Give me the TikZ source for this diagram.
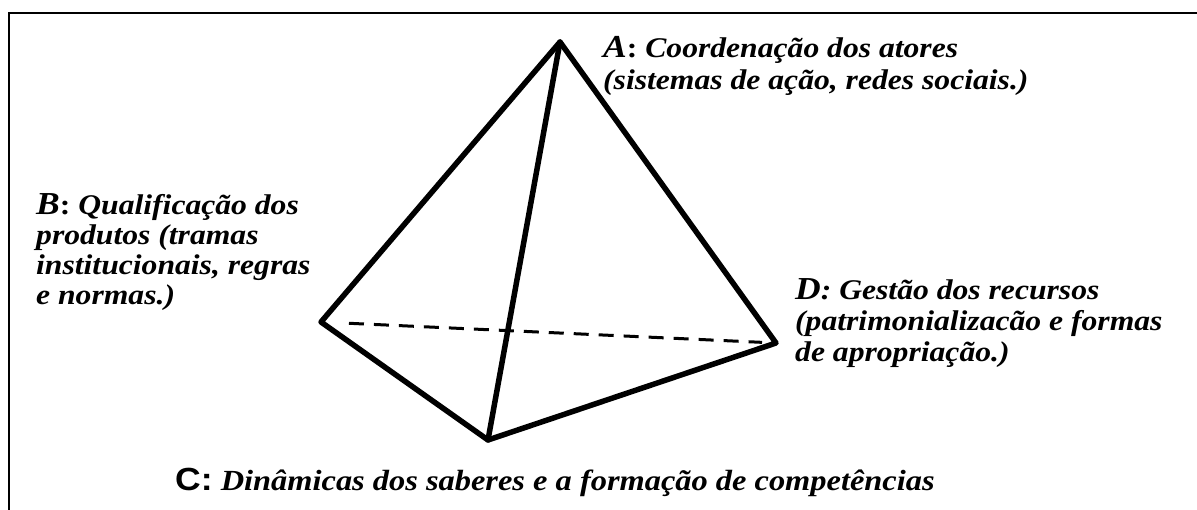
\documentclass[tikz,border=0pt]{standalone}
\usepackage{fontspec}
\setmainfont{Liberation Serif}
\newfontfamily\lblfont[FakeStretch=1.11]{Liberation Serif}
\newfontfamily\lblsans[FakeStretch=1.11]{Liberation Sans}
\newcommand{\capltr}[1]{{\fontsize{32}{30}\selectfont #1}}
\begin{document}
\begin{tikzpicture}[x=1pt,y=-1pt,
  edge/.style={line width=5.5pt, line cap=round, line join=round},
  hidden/.style={line width=3pt, dash pattern=on 15pt off 10pt},
  frame/.style={line width=2.2pt},
  lbl/.style={anchor=base west, inner sep=0pt, align=left,
    font=\lblfont\bfseries\itshape\fontsize{28.5}{30}\selectfont}]
\useasboundingbox (0,0) rectangle (1197,510);
\draw[frame] (9,515) -- (9,13) -- (1200,13);
\coordinate (A) at (560,42);
\coordinate (B) at (321,322);
\coordinate (C) at (488,440);
\coordinate (D) at (776,343);
\draw[hidden, shorten <=28pt, shorten >=14pt] (B) -- (D);
\draw[edge] (B) -- (A) -- (D) -- (C) -- cycle;
\draw[edge] (A) -- (C);
\node[lbl, font=\lblfont\bfseries\itshape\fontsize{28.5}{32}\selectfont] (la) at (603,90)
  {\capltr{A}\upshape: \itshape Coordenação dos atores\\(sistemas de ação, redes sociais.)};
\node[lbl] (lb) at (36,305)
  {\capltr{B}\upshape: \itshape Qualificação dos\\produtos (tramas\\institucionais, regras\\e normas.)};
\node[lbl, font=\lblfont\bfseries\itshape\fontsize{28.5}{31}\selectfont] (ld) at (795,362)
  {\capltr{D}: Gestão dos recursos\\(patrimonializacão e formas\\de apropriação.)};
\node[lbl, font=\lblfont\bfseries\itshape\fontsize{29.2}{30}\selectfont] (lc) at (175,490)
  {{\lblsans\upshape\fontsize{32}{30}\selectfont C:} Dinâmicas dos saberes e a formação de competências};
\end{tikzpicture}
\end{document}
